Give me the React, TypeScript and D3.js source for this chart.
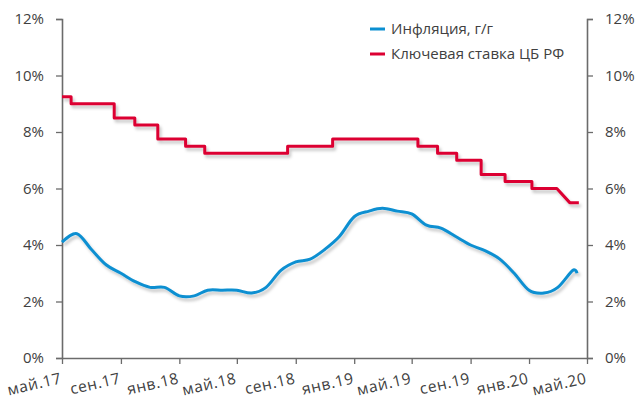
import React, { useEffect, useRef } from "react";
import * as d3 from "d3";

// инфляция г/г, % (месячные точки + последняя оценка)
const inflationDates = [
  "2017-05-01", "2017-06-01", "2017-07-01", "2017-08-01", "2017-09-01", "2017-10-01",
  "2017-11-01", "2017-12-01", "2018-01-01", "2018-02-01", "2018-03-01", "2018-04-01",
  "2018-05-01", "2018-06-01", "2018-07-01", "2018-08-01", "2018-09-01", "2018-10-01",
  "2018-11-01", "2018-12-01", "2019-01-01", "2019-02-01", "2019-03-01", "2019-04-01",
  "2019-05-01", "2019-06-01", "2019-07-01", "2019-08-01", "2019-09-01", "2019-10-01",
  "2019-11-01", "2019-12-01", "2020-01-01", "2020-02-01", "2020-03-01", "2020-04-01",
  "2020-04-10",
];
const inflationValues = [
  4.1, 4.4, 3.85, 3.3, 3.0, 2.7,
  2.5, 2.5, 2.2, 2.2, 2.4, 2.4,
  2.4, 2.3, 2.5, 3.1, 3.4, 3.5,
  3.85, 4.3, 5.0, 5.2, 5.3, 5.2,
  5.1, 4.7, 4.6, 4.3, 4.0, 3.8,
  3.5, 3.0, 2.4, 2.3, 2.5, 3.1,
  3.0,
];

// ключевая ставка ЦБ РФ, % (точки излома линии)
const keyRateDates = [
  "2017-05-01", "2017-05-20", "2017-05-20", "2017-08-18", "2017-08-18", "2017-09-30",
  "2017-09-30", "2017-11-17", "2017-11-17", "2018-01-14", "2018-01-14", "2018-02-23",
  "2018-02-23", "2018-08-15", "2018-08-15", "2018-11-17", "2018-11-17", "2019-05-14",
  "2019-05-14", "2019-06-24", "2019-06-24", "2019-08-03", "2019-08-03", "2019-09-23",
  "2019-09-23", "2019-11-12", "2019-11-12", "2020-01-07", "2020-01-07", "2020-02-28",
  "2020-03-26", "2020-04-14",
];
const keyRateValues = [
  9.25, 9.25, 9.0, 9.0, 8.5, 8.5,
  8.25, 8.25, 7.75, 7.75, 7.5, 7.5,
  7.25, 7.25, 7.5, 7.5, 7.75, 7.75,
  7.5, 7.5, 7.25, 7.25, 7.0, 7.0,
  6.5, 6.5, 6.25, 6.25, 6.0, 6.0,
  5.5, 5.5,
];

const xTickDates = [
  "2017-05-01", "2017-09-01", "2018-01-01", "2018-05-01", "2018-09-01",
  "2019-01-01", "2019-05-01", "2019-09-01", "2020-01-01", "2020-05-01",
];
const xTickLabels = [
  "май.17", "сен.17", "янв.18", "май.18", "сен.18",
  "янв.19", "май.19", "сен.19", "янв.20", "май.20",
];
const yTicks = [0, 2, 4, 6, 8, 10, 12];

const seriesNames = ["Инфляция, г/г", "Ключевая ставка ЦБ РФ"];
const seriesColors = ["#0b8fd1", "#dc0032"];

const width = 636;
const height = 403;
const FONT = "'Open Sans', sans-serif";
const AXIS = "#6b6b6b";
const TEXT = "#404040";

export default function App() {
  const ref = useRef<SVGSVGElement>(null);

  useEffect(() => {
    const svg = d3.select(ref.current);
    svg.selectAll("*").remove();

    const parse = d3.timeParse("%Y-%m-%d");
    const left = 62;
    const right = 587;
    const top = 19;
    const bottom = 358;

    const x = d3.scaleTime()
      .domain([parse("2017-05-01")!, parse("2020-05-01")!])
      .range([left, right]);
    const y = d3.scaleLinear().domain([0, 12]).range([bottom, top]);

    // тень под линиями
    const defs = svg.append("defs");
    defs.append("filter")
      .attr("id", "shadow")
      .attr("x", "-5%").attr("y", "-20%")
      .attr("width", "110%").attr("height", "140%")
      .append("feDropShadow")
      .attr("dx", 2).attr("dy", 3)
      .attr("stdDeviation", 1.6)
      .attr("flood-color", "#000")
      .attr("flood-opacity", 0.22);

    const styleAxis = (g: any) => {
      g.select(".domain").attr("stroke", AXIS).attr("stroke-width", 1.6);
      g.selectAll(".tick line").attr("stroke", AXIS).attr("stroke-width", 1.3);
      g.selectAll(".tick text")
        .attr("fill", TEXT)
        .attr("font-family", FONT)
        .attr("font-size", 15);
    };

    // левая ось
    svg.append("g")
      .attr("transform", `translate(${left},0)`)
      .call(
        d3.axisLeft(y).tickValues(yTicks).tickSize(6).tickSizeOuter(6)
          .tickPadding(12).tickFormat((d) => `${d}%`)
      )
      .call(styleAxis);

    // правая ось
    svg.append("g")
      .attr("transform", `translate(${right},0)`)
      .call(
        d3.axisRight(y).tickValues(yTicks).tickSize(6).tickSizeOuter(6)
          .tickPadding(12).tickFormat((d) => `${d}%`)
      )
      .call(styleAxis);

    // нижняя ось
    const xTicks = xTickDates.map((d) => parse(d)!);
    const xAxis = svg.append("g")
      .attr("transform", `translate(0,${bottom})`)
      .call(
        d3.axisBottom(x).tickValues(xTicks).tickSize(6).tickSizeOuter(0)
          .tickFormat((_, i) => xTickLabels[i])
      )
      .call(styleAxis);
    xAxis.selectAll(".tick text")
      .attr("text-anchor", "end")
      .attr("dy", 0)
      .attr("y", 0)
      .attr("font-size", 15.5)
      .attr("letter-spacing", 0.6)
      .attr("transform", "translate(0,25) rotate(-13)");

    // линии
    const line = d3.line<[Date, number]>()
      .x((d) => x(d[0]))
      .y((d) => y(d[1]));

    const infl: [Date, number][] = inflationDates.map((d, i) => [parse(d)!, inflationValues[i]]);
    const rate: [Date, number][] = keyRateDates.map((d, i) => [parse(d)!, keyRateValues[i]]);

    svg.append("path")
      .datum(rate)
      .attr("d", line.curve(d3.curveLinear))
      .attr("fill", "none")
      .attr("stroke", seriesColors[1])
      .attr("stroke-width", 3)
      .attr("stroke-linejoin", "round")
      .attr("filter", "url(#shadow)");

    svg.append("path")
      .datum(infl)
      .attr("d", line.curve(d3.curveCardinal.tension(0)))
      .attr("fill", "none")
      .attr("stroke", seriesColors[0])
      .attr("stroke-width", 3)
      .attr("stroke-linejoin", "round")
      .attr("filter", "url(#shadow)");

    // легенда
    const legend = svg.append("g").attr("transform", "translate(370,29)");
    seriesNames.forEach((name, i) => {
      const row = legend.append("g").attr("transform", `translate(0,${i * 25})`);
      row.append("line")
        .attr("x1", 0).attr("x2", 15)
        .attr("stroke", seriesColors[i])
        .attr("stroke-width", 3);
      row.append("text")
        .attr("x", 21)
        .attr("dy", "0.35em")
        .attr("fill", TEXT)
        .attr("font-family", FONT)
        .attr("font-size", 15)
        .text(name);
    });
  }, []);

  return (
    <svg
      ref={ref}
      width={width}
      height={height}
      style={{ position: "absolute", left: 0, top: 0, background: "#fff" }}
    />
  );
}
